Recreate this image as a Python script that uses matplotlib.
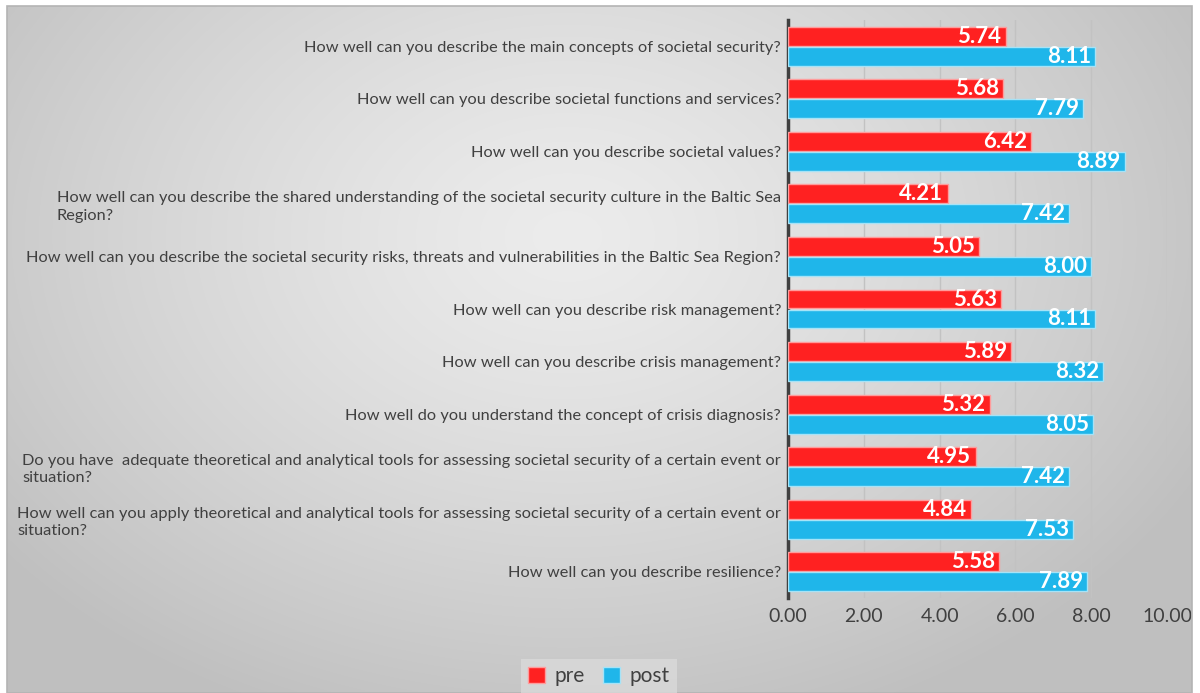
import numpy as np
import matplotlib.pyplot as plt
from matplotlib.patches import Patch, Rectangle

plt.rcParams['font.family'] = ['Lato', 'DejaVu Sans']

questions = [
    "How well can you describe the main concepts of societal security?",
    "How well can you describe societal functions and services?",
    "How well can you describe societal values?",
    "How well can you describe the shared understanding of the societal security culture in the Baltic Sea\nRegion?",
    "How well can you describe the societal security risks, threats and vulnerabilities in the Baltic Sea Region?",
    "How well can you describe risk management?",
    "How well can you describe crisis management?",
    "How well do you understand the concept of crisis diagnosis?",
    "Do you have  adequate theoretical and analytical tools for assessing societal security of a certain event or\nsituation?",
    "How well can you apply theoretical and analytical tools for assessing societal security of a certain event or\nsituation?",
    "How well can you describe resilience?",
]
pre = [5.74, 5.68, 6.42, 4.21, 5.05, 5.63, 5.89, 5.32, 4.95, 4.84, 5.58]
post = [8.11, 7.79, 8.89, 7.42, 8.00, 8.11, 8.32, 8.05, 7.42, 7.53, 7.89]
x_ticks = [0, 2, 4, 6, 8, 10]
series_names = ["pre", "post"]

RED = "#ff2121"
BLUE = "#1fb6ea"
TEXT = "#404040"

W, H = 1200, 693
fig = plt.figure(figsize=(W / 100, H / 100), dpi=100)
fig.patch.set_facecolor("white")

# Gray panel with a soft radial gradient
px0, px1, py0 = 7, 1192, 6
pw, ph = px1 - px0, H - py0
bg = fig.add_axes([px0 / W, 0, pw / W, ph / H])
yy, xx = np.mgrid[0:ph, 0:pw]
cx, cy, rx, ry = 560, 230, 720, 520
d = np.sqrt(((xx - cx) / rx) ** 2 + ((yy - cy) / ry) ** 2)
t = np.clip(d, 0, 1) ** 1.3
inner, outer = 0.925, 0.75
g = inner + (outer - inner) * t
bg.imshow(np.dstack([g, g, g]), extent=(0, pw, ph, 0), aspect="auto",
          interpolation="bilinear")
bg.set_xlim(0, pw)
bg.set_ylim(ph, 0)
bg.axis("off")
fig.add_artist(Rectangle((px0 / W, 0), pw / W, ph / H, transform=fig.transFigure,
                         fill=False, edgecolor="#b4b4b4", lw=1.2))

# Main bar axes
ax = fig.add_axes([788 / W, 1 - 598 / H, (1167 - 788) / W, (598 - 20) / H])
ax.patch.set_alpha(0)
n = len(questions)
ys = np.arange(n)
bh, off = 0.36, 0.19
ax.barh(ys - off, pre, height=bh, color=RED, edgecolor="#ff9c9c", lw=1, zorder=3)
ax.barh(ys + off, post, height=bh, color=BLUE, edgecolor="#a6e3f7", lw=1, zorder=3)

for y, v in zip(ys - off, pre):
    ax.text(v - 0.11, y, f"{v:.2f}", ha="right", va="center", color="white",
            fontsize=16, fontweight="bold", zorder=4)
for y, v in zip(ys + off, post):
    ax.text(v - 0.11, y, f"{v:.2f}", ha="right", va="center", color="white",
            fontsize=16, fontweight="bold", zorder=4)

ax.set_xlim(0, 10)
ax.set_ylim(n - 0.5, -0.5)
ax.set_xticks(x_ticks)
ax.set_xticklabels([f"{v:.2f}" for v in x_ticks], fontsize=14, color=TEXT)
ax.set_yticks(ys)
ax.set_yticklabels(questions, fontsize=11.8, color=TEXT, multialignment="left",
                   linespacing=1.3)
ax.tick_params(axis="y", length=0, pad=5)
ax.tick_params(axis="x", length=0, pad=7)
ax.grid(axis="x", color="#c2c2c2", lw=1, zorder=0)
for s in ["top", "right", "bottom"]:
    ax.spines[s].set_visible(False)
ax.spines["left"].set_color(TEXT)
ax.spines["left"].set_linewidth(2.5)
ax.spines["left"].set_zorder(2)

handles = [Patch(facecolor=RED, edgecolor="#ff9c9c"), Patch(facecolor=BLUE, edgecolor="#a6e3f7")]
leg = fig.legend(handles, series_names, loc="center", bbox_to_anchor=(599 / W, 1 - 676 / H),
                 ncol=2, frameon=True, fontsize=15, handlelength=0.8, handleheight=0.8,
                 handletextpad=0.45, columnspacing=0.9, borderpad=0.35, borderaxespad=0,
                 fancybox=False)
leg.get_frame().set_facecolor("#dadada")
leg.get_frame().set_alpha(0.8)
leg.get_frame().set_edgecolor("none")
for txt in leg.get_texts():
    txt.set_color(TEXT)

fig.savefig("out.png", dpi=100, facecolor="white")
